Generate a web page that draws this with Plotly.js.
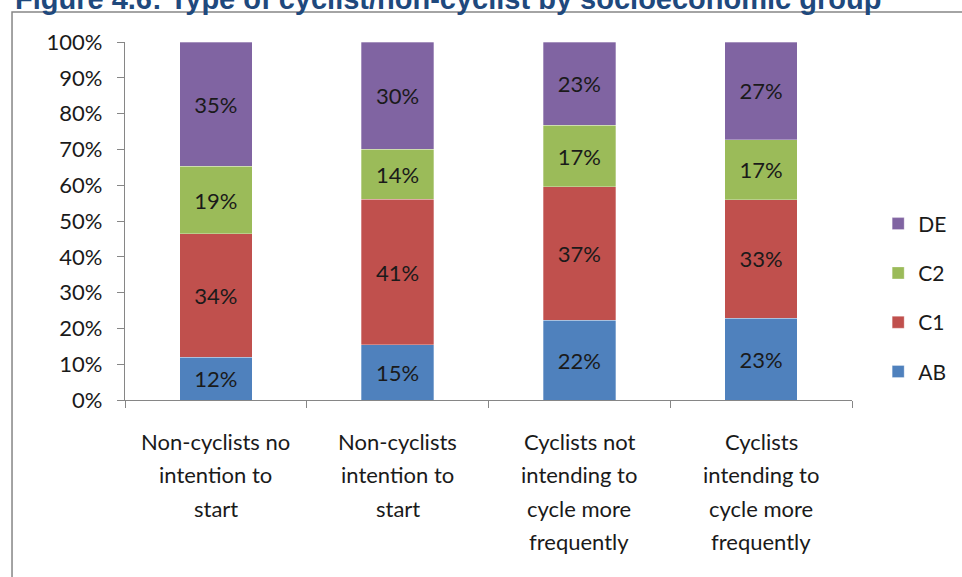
<!DOCTYPE html>
<html><head><meta charset="utf-8">
<script src="https://cdn.plot.ly/plotly-3.0.1.min.js"></script>
<style>html,body{margin:0;padding:0;background:#fff}#chart{width:962px;height:577px}</style>
</head><body><div id="chart"></div>
<script>
var categories = ["Non-cyclists no intention to start", "Non-cyclists intention to start", "Cyclists not intending to cycle more frequently", "Cyclists intending to cycle more frequently"];
var labelLines = [["Non-cyclists no", "intention to", "start"], ["Non-cyclists", "intention to", "start"], ["Cyclists not", "intending to", "cycle more", "frequently"], ["Cyclists", "intending to", "cycle more", "frequently"]];
var seriesNames = ["AB", "C1", "C2", "DE"];
var AB = [12.0, 15.4, 22.3, 22.9];
var C1 = [34.4, 40.7, 37.2, 33.0];
var C2 = [18.9, 14.0, 17.3, 16.8];
var DE = [34.7, 29.9, 23.2, 27.3];
var yTicks = [0, 10, 20, 30, 40, 50, 60, 70, 80, 90, 100];
var colors = ["#4F81BD", "#C0504D", "#9BBB59", "#8064A2"];
var titleText = "Figure 4.6: Type of cyclist/non-cyclist by socioeconomic group";

var font = "Lato, 'Open Sans', sans-serif";
var series = [AB, C1, C2, DE];
var traces = series.map(function (vals, i) {
  return {
    type: "bar", name: seriesNames[i], x: categories, y: vals,
    marker: {color: colors[i], line: {color: "rgba(255,255,255,0.6)", width: 0.5}},
    texttemplate: "%{y:.0f}%", textposition: "inside", insidetextanchor: "middle",
    textfont: {family: font, size: 22, color: "#1a1a1a"}, textangle: 0,
    legendgroup: "g" + i, legendrank: 10 - i, hoverinfo: "skip"
  };
});

var annotations = [{
  text: "<b>" + titleText + "</b>", xref: "paper", yref: "paper", x: -0.154, y: 1.0698,
  xanchor: "left", yanchor: "bottom", showarrow: false,
  font: {family: "'Liberation Sans', Arial, sans-serif", size: 29, color: "#1F497D"}
}];
labelLines.forEach(function (lines, c) {
  lines.forEach(function (ln, k) {
    annotations.push({
      text: ln, xref: "x", yref: "paper", x: categories[c], y: 0, yanchor: "middle",
      yshift: -41 - 33.5 * k, showarrow: false,
      font: {family: font, size: 22, color: "#1a1a1a"}
    });
  });
});

var layout = {
  width: 962, height: 577,
  margin: {l: 125, r: 110, t: 42, b: 177, autoexpand: false},
  paper_bgcolor: "#fff", plot_bgcolor: "#fff",
  barmode: "stack", bargap: 0.6,
  showlegend: true,
  legend: {x: 1.036, y: 0.285, xanchor: "left", yanchor: "middle", traceorder: "grouped",
    tracegroupgap: 19, font: {family: font, size: 21, color: "#1a1a1a"}, itemwidth: 30},
  xaxis: {showticklabels: false, showline: true, linecolor: "#868686", linewidth: 1.3,
    ticks: "outside", ticklen: 7, tickcolor: "#868686", tickson: "boundaries", showgrid: false, fixedrange: true},
  yaxis: {range: [0, 100], tickvals: yTicks, ticktext: yTicks.map(function (v) { return v + "%"; }),
    showline: true, linecolor: "#868686", linewidth: 1.3, ticks: "outside", ticklen: 7, tickcolor: "#868686",
    showgrid: false, zeroline: false, tickfont: {family: font, size: 22, color: "#1a1a1a"},
    ticklabelstandoff: 10, fixedrange: true},
  shapes: [{type: "rect", xref: "paper", yref: "paper", x0: -0.1554, x1: 2, y0: -1, y1: 1.0838,
    line: {color: "#868686", width: 1.5}, fillcolor: "rgba(0,0,0,0)", layer: "below"}],
  annotations: annotations
};
Plotly.newPlot("chart", traces, layout, {displayModeBar: false, staticPlot: true});
</script></body></html>
